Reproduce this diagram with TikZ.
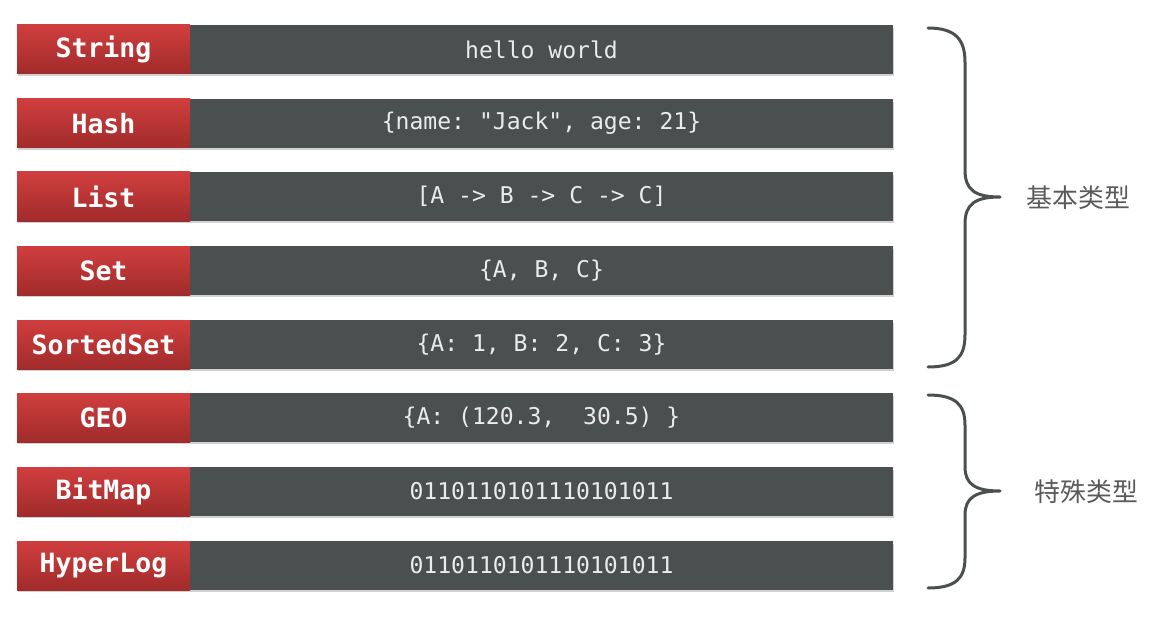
\documentclass[tikz,border=0pt]{standalone}
\usepackage{fontspec}
\setmonofont{DejaVu Sans Mono}
\newfontfamily\cjk{Noto Sans CJK SC}
\definecolor{redtop}{HTML}{D03E3E}
\definecolor{redbot}{HTML}{A12B2B}
\definecolor{darkbox}{HTML}{4A5050}
\definecolor{bracecol}{HTML}{4A5050}
\definecolor{cjkcol}{HTML}{5A5A5A}
\tikzset{
  keybox/.style={rectangle, minimum width=173*0.75pt, minimum height=49*0.75pt, inner sep=0pt,
    top color=redtop, bottom color=redbot, draw=none, text=white,
    font=\ttfamily\bfseries\fontsize{19.9}{21}\selectfont},
  valbox/.style={rectangle, minimum width=703*0.75pt, minimum height=49*0.75pt, inner sep=0pt,
    fill=darkbox, text=white!92!black, font=\ttfamily\fontsize{17.3}{19}\selectfont},
  shadowbox/.style={fill=black!18},
  bracestyle/.style={draw=bracecol, line width=3*0.75pt, line cap=round, line join=round},
  catlabel/.style={text=cjkcol, font=\cjk\fontsize{19.4}{21}\selectfont}
}
\begin{document}
\begin{tikzpicture}[x=0.75pt,y=-0.75pt]
\useasboundingbox (0,0) rectangle (1158,617);
% shadows
\foreach \t in {25,99,172,246,320,393,467,541}{
  \fill[shadowbox] (18,\t+3) rectangle (894,\t+51);
}
% rows
\node[valbox] (v1) at (541.5,49.5) {hello world};
\node[keybox] (k1) at (103.5,49.5) {String};
\node[valbox] (v2) at (541.5,123.5) {\{name: "Jack", age: 21\}};
\node[keybox] (k2) at (103.5,123.5) {Hash};
\node[valbox] (v3) at (541.5,196.5) {[A -> B -> C -> C]};
\node[keybox] (k3) at (103.5,196.5) {List};
\node[valbox] (v4) at (541.5,270.5) {\{A, B, C\}};
\node[keybox] (k4) at (103.5,270.5) {Set};
\node[valbox] (v5) at (541.5,344.5) {\{A: 1, B: 2, C: 3\}};
\node[keybox] (k5) at (103.5,344.5) {SortedSet};
\node[valbox] (v6) at (541.5,417.5) {\{A: (120.3,~~30.5) \}};
\node[keybox] (k6) at (103.5,417.5) {GEO};
\node[valbox] (v7) at (541.5,491.5) {0110110101110101011};
\node[keybox] (k7) at (103.5,491.5) {BitMap};
\node[valbox] (v8) at (541.5,565.5) {0110110101110101011};
\node[keybox] (k8) at (103.5,565.5) {HyperLog};
% braces
\coordinate (b1tip) at (1000,197);
\coordinate (b2tip) at (1000,491);
\draw[bracestyle] (928,28) .. controls (956,28) and (965,40) .. (965,62) -- (965,170)
  .. controls (965,190) and (975,197) .. (b1tip)
  .. controls (975,197) and (965,204) .. (965,224) -- (965,335)
  .. controls (965,357) and (956,367) .. (928,367);
\draw[bracestyle] (928,395) .. controls (956,395) and (965,405) .. (965,425) -- (965,467)
  .. controls (965,484) and (975,491) .. (b2tip)
  .. controls (975,491) and (965,498) .. (965,515) -- (965,558)
  .. controls (965,578) and (956,588) .. (928,588);
\node[catlabel, anchor=west] (c1) at (1022,198) {基本类型};
\node[catlabel, anchor=west] (c2) at (1030,492) {特殊类型};
\end{tikzpicture}
\end{document}
